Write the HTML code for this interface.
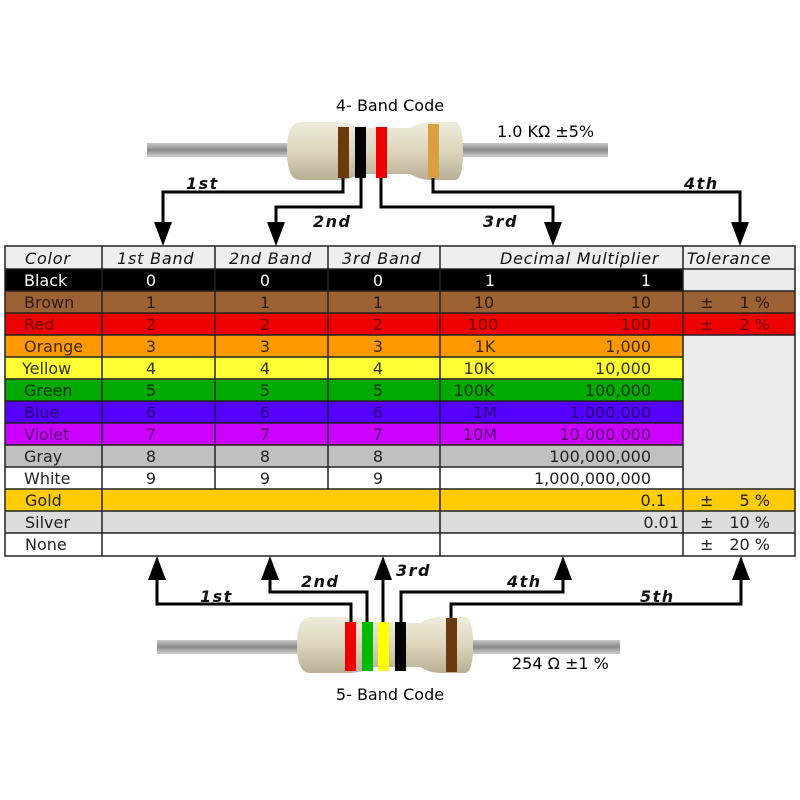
<!DOCTYPE html>
<html><head><meta charset="utf-8"><style>
html,body{margin:0;padding:0;background:#fff;width:800px;height:800px;overflow:hidden}
text{font-family:"DejaVu Sans","Liberation Sans",sans-serif;font-size:16px}
.h{font-style:italic;font-size:16px;fill:#111;letter-spacing:0.8px}
.lbl{font-style:italic;font-size:16px;font-weight:bold;fill:#111;letter-spacing:1.5px}
</style></head><body>
<svg width="800" height="800" viewBox="0 0 800 800" xmlns="http://www.w3.org/2000/svg">
<defs>
<linearGradient id="lead" x1="0" y1="0" x2="0" y2="1">
<stop offset="0" stop-color="#c8c8c8"/><stop offset="0.5" stop-color="#8a8a8a"/><stop offset="1" stop-color="#d0d0d0"/></linearGradient>
<linearGradient id="body" x1="0" y1="0" x2="0" y2="1">
<stop offset="0" stop-color="#f0ecdc"/><stop offset="0.5" stop-color="#ddd6bc"/><stop offset="1" stop-color="#b8b094"/></linearGradient>
</defs>
<!-- top resistor -->
<rect x="147" y="143" width="461" height="14" fill="url(#lead)"/>
<path d="M300,122 h40 q10,0 20,6 h50 q10,-6 20,-6 h25 q8,0 8,29 q0,29 -8,29 h-25 q-10,0 -20,-6 h-50 q-10,6 -20,6 h-40 q-13,0 -13,-29 q0,-29 13,-29z" fill="url(#body)"/>
<rect x="338" y="127" width="11" height="51" fill="#6b3a0e"/>
<rect x="355" y="127" width="11" height="51" fill="#000"/>
<rect x="376" y="127" width="11" height="51" fill="#ee0000"/>
<rect x="428" y="124" width="11" height="54" fill="#d9a040"/>
<text x="390" y="111" text-anchor="middle">4- Band Code</text>
<text x="497" y="137">1.0 KΩ  ±5%</text>
<g fill="none" stroke="#000" stroke-width="3">
<path d="M343,178 V192 H163 V226"/>
<path d="M361,178 V207 H276 V226"/>
<path d="M381,178 V207 H553 V226"/>
<path d="M433,178 V192 H740 V226"/>
</g>
<g fill="#000">
<path d="M154,222 h18 l-9,24z"/><path d="M267,222 h18 l-9,24z"/><path d="M544,222 h18 l-9,24z"/><path d="M731,222 h18 l-9,24z"/>
</g>
<text class="lbl" x="186" y="189">1st</text>
<text class="lbl" x="313" y="227">2nd</text>
<text class="lbl" x="483" y="227">3rd</text>
<text class="lbl" x="684" y="189">4th</text>

<!-- table -->
<g stroke="none">
<rect x="5" y="246" width="790" height="23" fill="#eeeeee"/>
<rect x="5" y="269" width="678" height="22" fill="#000"/>
<rect x="683" y="269" width="112" height="22" fill="#ececec"/>
<rect x="5" y="291" width="790" height="22" fill="#9c6234"/>
<rect x="5" y="313" width="790" height="22" fill="#ee0000"/>
<rect x="5" y="335" width="678" height="22" fill="#ff9900"/>
<rect x="5" y="357" width="678" height="22" fill="#ffff33"/>
<rect x="5" y="379" width="678" height="22" fill="#00aa00"/>
<rect x="5" y="401" width="678" height="22" fill="#5500ff"/>
<rect x="5" y="423" width="678" height="22" fill="#cc00ff"/>
<rect x="5" y="445" width="678" height="22" fill="#c0c0c0"/>
<rect x="683" y="335" width="112" height="155" fill="#ececec"/>
<rect x="5" y="489" width="790" height="22" fill="#ffcc00"/>
<rect x="5" y="511" width="790" height="22" fill="#dddddd"/>
</g>
<g stroke="#222" stroke-width="1.5" fill="none">
<rect x="5" y="246" width="790" height="310"/>
<path d="M5,269 H795 M5,291 H795 M5,313 H795 M5,335 H795 M5,357 H683 M5,379 H683 M5,401 H683 M5,423 H683 M5,445 H683 M5,467 H683 M5,489 H795 M5,511 H795 M5,533 H795"/>
<path d="M102,246 V556 M215,246 V489 M328,246 V489 M440,246 V556 M683,246 V556"/>
</g>
<g>
<text class="h" x="25" y="264">Color</text>
<text class="h" x="117" y="264">1st Band</text>
<text class="h" x="229" y="264">2nd Band</text>
<text class="h" x="342" y="264">3rd Band</text>
<text class="h" x="500" y="264">Decimal Multiplier</text>
<text class="h" x="687" y="264">Tolerance</text>
</g>
<g>
<g fill="#fff"><text x="24" y="286">Black</text><text x="151" y="286" text-anchor="middle">0</text><text x="265" y="286" text-anchor="middle">0</text><text x="378" y="286" text-anchor="middle">0</text><text x="490" y="286" text-anchor="middle">1</text><text x="651" y="286" text-anchor="end">1</text></g>
<g fill="#2e1a08"><text x="24" y="308">Brown</text><text x="151" y="308" text-anchor="middle">1</text><text x="265" y="308" text-anchor="middle">1</text><text x="378" y="308" text-anchor="middle">1</text><text x="484" y="308" text-anchor="middle">10</text><text x="651" y="308" text-anchor="end">10</text><text x="700" y="308">±</text><text x="770" y="308" text-anchor="end">1 %</text></g>
<g fill="#700000"><text x="24" y="330">Red</text><text x="151" y="330" text-anchor="middle">2</text><text x="265" y="330" text-anchor="middle">2</text><text x="378" y="330" text-anchor="middle">2</text><text x="483" y="330" text-anchor="middle">100</text><text x="651" y="330" text-anchor="end">100</text><text x="700" y="330">±</text><text x="770" y="330" text-anchor="end">2 %</text></g>
<g fill="#3a2a00"><text x="24" y="352">Orange</text><text x="151" y="352" text-anchor="middle">3</text><text x="265" y="352" text-anchor="middle">3</text><text x="378" y="352" text-anchor="middle">3</text><text x="485" y="352" text-anchor="middle">1K</text><text x="651" y="352" text-anchor="end">1,000</text></g>
<g fill="#333300"><text x="22" y="374">Yellow</text><text x="151" y="374" text-anchor="middle">4</text><text x="265" y="374" text-anchor="middle">4</text><text x="378" y="374" text-anchor="middle">4</text><text x="479" y="374" text-anchor="middle">10K</text><text x="651" y="374" text-anchor="end">10,000</text></g>
<g fill="#003300"><text x="24" y="396">Green</text><text x="151" y="396" text-anchor="middle">5</text><text x="265" y="396" text-anchor="middle">5</text><text x="378" y="396" text-anchor="middle">5</text><text x="474" y="396" text-anchor="middle">100K</text><text x="651" y="396" text-anchor="end">100,000</text></g>
<g fill="#2a0070"><text x="24" y="418">Blue</text><text x="151" y="418" text-anchor="middle">6</text><text x="265" y="418" text-anchor="middle">6</text><text x="378" y="418" text-anchor="middle">6</text><text x="485" y="418" text-anchor="middle">1M</text><text x="651" y="418" text-anchor="end">1,000,000</text></g>
<g fill="#5a0070"><text x="24" y="440">Violet</text><text x="151" y="440" text-anchor="middle">7</text><text x="265" y="440" text-anchor="middle">7</text><text x="378" y="440" text-anchor="middle">7</text><text x="480" y="440" text-anchor="middle">10M</text><text x="651" y="440" text-anchor="end">10,000,000</text></g>
<g fill="#222"><text x="24" y="462">Gray</text><text x="151" y="462" text-anchor="middle">8</text><text x="265" y="462" text-anchor="middle">8</text><text x="378" y="462" text-anchor="middle">8</text><text x="651" y="462" text-anchor="end">100,000,000</text></g>
<g fill="#222"><text x="24" y="484">White</text><text x="151" y="484" text-anchor="middle">9</text><text x="265" y="484" text-anchor="middle">9</text><text x="378" y="484" text-anchor="middle">9</text><text x="651" y="484" text-anchor="end">1,000,000,000</text></g>
<g fill="#222"><text x="25" y="506">Gold</text><text x="666" y="506" text-anchor="end">0.1</text><text x="700" y="506">±</text><text x="770" y="506" text-anchor="end">5 %</text></g>
<g fill="#222"><text x="25" y="528">Silver</text><text x="679" y="528" text-anchor="end">0.01</text><text x="700" y="528">±</text><text x="770" y="528" text-anchor="end">10 %</text></g>
<g fill="#222"><text x="25" y="550">None</text><text x="700" y="550">±</text><text x="770" y="550" text-anchor="end">20 %</text></g>
</g>

<!-- bottom resistor -->
<rect x="157" y="640" width="463" height="14" fill="url(#lead)"/>
<path d="M310,617 h40 q10,0 20,6 h50 q10,-6 20,-6 h25 q8,0 8,28 q0,28 -8,28 h-25 q-10,0 -20,-6 h-50 q-10,6 -20,6 h-40 q-13,0 -13,-28 q0,-28 13,-28z" fill="url(#body)"/>
<rect x="345" y="622" width="11" height="49" fill="#ee0000"/>
<rect x="362" y="622" width="11" height="49" fill="#00bb00"/>
<rect x="378" y="622" width="11" height="49" fill="#ffff00"/>
<rect x="395" y="622" width="11" height="49" fill="#000"/>
<rect x="446" y="618" width="11" height="54" fill="#6b3a0e"/>
<g fill="none" stroke="#000" stroke-width="3">
<path d="M351,622 V604 H157 V576"/>
<path d="M367,622 V592 H270 V576"/>
<path d="M383,622 V576"/>
<path d="M401,622 V592 H563 V576"/>
<path d="M451,618 V604 H741 V576"/>
</g>
<g fill="#000">
<path d="M148,580 h18 l-9,-24z"/><path d="M261,580 h18 l-9,-24z"/><path d="M374,580 h18 l-9,-24z"/><path d="M554,580 h18 l-9,-24z"/><path d="M732,580 h18 l-9,-24z"/>
</g>
<text class="lbl" x="200" y="602">1st</text>
<text class="lbl" x="301" y="587">2nd</text>
<text class="lbl" x="396" y="576">3rd</text>
<text class="lbl" x="507" y="587">4th</text>
<text class="lbl" x="640" y="602">5th</text>
<text x="512" y="669">254 Ω  ±1 %</text>
<text x="390" y="700" text-anchor="middle">5- Band Code</text>
</svg>
</body></html>
